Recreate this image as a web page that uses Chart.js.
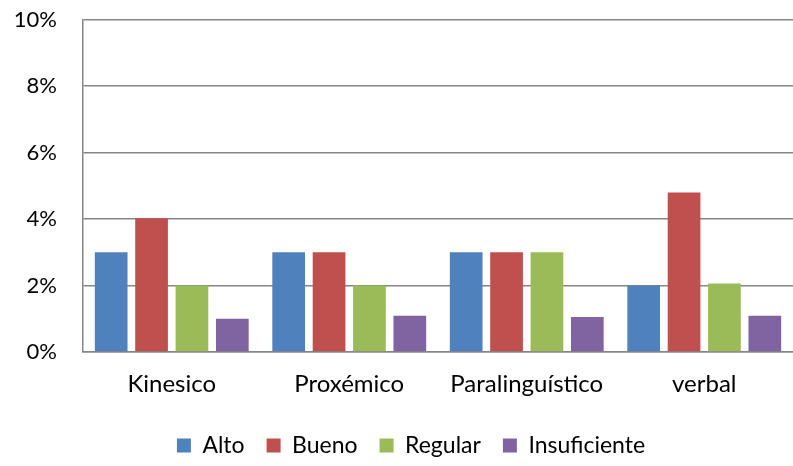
<!DOCTYPE html>
<html>
<head>
<meta charset="utf-8">
<script src="https://cdn.jsdelivr.net/npm/chart.js@4/dist/chart.umd.min.js"></script>
<style>
html,body{margin:0;padding:0;background:#fff;}
#wrap{width:793px;height:466px;position:relative;}
</style>
</head>
<body>
<div id="wrap"><canvas id="c" width="793" height="466"></canvas></div>
<script>
const categories = ["Kinesico", "Proxémico", "Paralinguístico", "verbal"];
const alto = [3.0, 3.0, 3.0, 2.0];
const bueno = [4.02, 3.0, 3.0, 4.8];
const regular = [2.0, 2.0, 3.0, 2.06];
const insuficiente = [1.0, 1.09, 1.05, 1.09];
const seriesNames = ["Alto", "Bueno", "Regular", "Insuficiente"];
const seriesColors = ["#4F81BD", "#C0504D", "#9BBB59", "#8064A2"];
const yTicks = [0, 2, 4, 6, 8, 10];

const FONT = "Lato, 'Open Sans', sans-serif";
const allValues = [alto, bueno, regular, insuficiente];

const shiftLegend = {
  id: 'shiftLegend',
  afterLayout(chart) {
    if (chart.legend) { chart.legend.left += 8; chart.legend.right += 8; }
  }
};

const chart = new Chart(document.getElementById('c'), {
  type: 'bar',
  data: {
    labels: categories,
    datasets: allValues.map((v, i) => ({
      label: seriesNames[i],
      data: v,
      backgroundColor: seriesColors[i],
      borderWidth: 0,
      categoryPercentage: 0.91,
      barPercentage: 0.81
    }))
  },
  plugins: [shiftLegend],
  options: {
    responsive: false,
    animation: false,
    devicePixelRatio: 1,
    layout: { padding: { left: 13, right: 0, top: 0, bottom: 0 } },
    plugins: {
      legend: {
        position: 'bottom',
        labels: {
          font: { family: FONT, size: 23 },
          color: '#000',
          boxWidth: 14,
          boxHeight: 14,
          padding: 22
        }
      },
      tooltip: { enabled: false }
    },
    scales: {
      x: {
        afterFit: (axis) => { axis.height = 60; },
        grid: { display: false, drawTicks: false },
        border: { display: true, color: '#868686', width: 1.5 },
        ticks: { font: { family: FONT, size: 24 }, color: '#000', padding: 18 }
      },
      y: {
        min: 0, max: 10,
        afterFit: (axis) => { axis.width = 70; axis.paddingTop = 19.5; axis.paddingBottom = 0; },
        afterBuildTicks: (axis) => { axis.ticks = yTicks.map(v => ({ value: v })); },
        grid: { color: '#868686', lineWidth: 1.5, drawTicks: false },
        border: { display: true, color: '#868686', width: 1.5 },
        ticks: {
          font: { family: FONT, size: 22 }, color: '#000', padding: 26,
          callback: (v) => v + '%'
        }
      }
    }
  }
});
const lg = chart.legend;
const origFit = lg.fit.bind(lg);
lg.fit = function () { origFit(); this.height = 54; };
chart.update();
</script>
</body>
</html>
